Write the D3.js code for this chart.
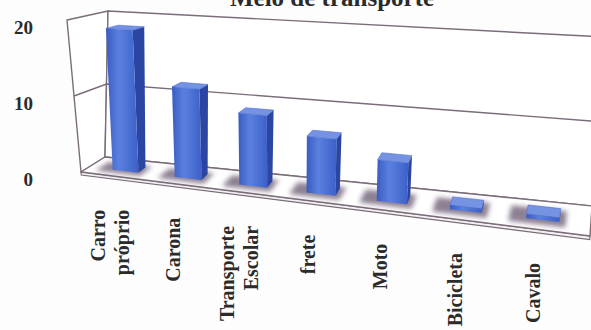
<!DOCTYPE html>
<html>
<head>
<meta charset="utf-8">
<script src="https://cdn.jsdelivr.net/npm/d3@7"></script>
<style>
  html, body { margin: 0; padding: 0; background: #fdfdfd; }
  svg { display: block; }
</style>
</head>
<body>
<svg id="chart" width="591" height="330"></svg>
<script>
// ---- data ----
const title = "Meio de transporte";
const categories = ["Carro próprio", "Carona", "Transporte Escolar", "frete", "Moto", "Bicicleta", "Cavalo"];
const values = [18.7, 11.7, 9.1, 7.0, 5.0, 0.5, 0.5];
const yTicks = [0, 10, 20];
const yMax = 20;

// ---- scales ----
// u: position along the floor, 0 = left wall, 1 = right end
const xBand = d3.scaleBand().domain(categories).range([0, 1]).paddingInner(0).paddingOuter(0.1);
// v: height up the walls, normalised 0..1
const yVal = d3.scaleLinear().domain([0, yMax]).range([0, 1]);

// ---- 3-D projection of the plot box ----
// screen positions of the eight box corners, keyed u v w (w: 0 = front, 1 = back)
const corners = {
  "000": [81, 172], "010": [67, 20], "001": [105, 157], "011": [108, 11],
  "100": [590, 236], "110": [603, 59], "101": [592, 206], "111": [604, 37]
};
const foreshorten = -0.14;
function proj(u, v, w) {
  const s = (1 + foreshorten) * u / (1 + foreshorten * u);
  let x = 0, y = 0;
  for (const a of [0, 1]) for (const b of [0, 1]) for (const c of [0, 1]) {
    const k = (a ? s : 1 - s) * (b ? v : 1 - v) * (c ? w : 1 - w);
    const p = corners["" + a + b + c];
    x += k * p[0]; y += k * p[1];
  }
  return [x, y];
}
const poly = pts => pts.map(p => proj(...p).map(d => d.toFixed(2)).join(",")).join(" ");

const svg = d3.select("#chart");
const defs = svg.append("defs");
defs.append("filter").attr("id", "soft").attr("x", "-50%").attr("y", "-50%").attr("width", "200%").attr("height", "200%")
  .append("feGaussianBlur").attr("stdDeviation", 2.8);
defs.append("filter").attr("id", "edge").attr("x", "-10%").attr("y", "-10%").attr("width", "120%").attr("height", "120%")
  .append("feGaussianBlur").attr("stdDeviation", 0.5);
const grad = defs.append("linearGradient").attr("id", "front").attr("x1", 0).attr("x2", 1).attr("y1", 0).attr("y2", 0);
grad.append("stop").attr("offset", "0%").attr("stop-color", "#3a5cc2");
grad.append("stop").attr("offset", "40%").attr("stop-color", "#5a80e0");
grad.append("stop").attr("offset", "100%").attr("stop-color", "#3d60c8");

const lineColor = "#7a6d79";
const g = svg.append("g");

// walls
g.append("polygon").attr("points", poly([[0, 0, 0], [0, 1, 0], [0, 1, 1], [0, 0, 1]]))
  .attr("fill", "#ffffff").attr("stroke", lineColor).attr("stroke-width", 1.4).attr("stroke-linejoin", "round");
g.append("polygon").attr("points", poly([[0, 0, 1], [0, 1, 1], [1, 1, 1], [1, 0, 1]]))
  .attr("fill", "#ffffff").attr("stroke", lineColor).attr("stroke-width", 1.4).attr("stroke-linejoin", "round");

// gridlines on the side and back walls
yTicks.filter(t => t > 0 && t < yMax).forEach(t => {
  const v = yVal(t);
  g.append("polyline").attr("points", poly([[0, v, 0], [0, v, 1], [1, v, 1]]))
    .attr("fill", "none").attr("stroke", lineColor).attr("stroke-width", 1.4);
});

// floor slab
const slab = 0.02;
g.append("polygon").attr("points", poly([[0, 0, 0], [1, 0, 0], [1, -slab, 0], [0, -slab, 0]]))
  .attr("fill", "#f3f1f3").attr("stroke", lineColor).attr("stroke-width", 1.2);
g.append("polygon").attr("points", poly([[0, 0, 0], [1, 0, 0], [1, 0, 1], [0, 0, 1]]))
  .attr("fill", "#ffffff").attr("stroke", lineColor).attr("stroke-width", 1.4).attr("stroke-linejoin", "round");

// bars
const step = xBand.step();
const barHalf = 0.21 * step;
const wf = 0.34, wb = 0.66;
const bars = categories.map((c, i) => {
  const mid = xBand(c) + step / 2;
  return { c, u0: mid - barHalf, u1: mid + barHalf, v: yVal(values[i]) };
});

// soft shadows at the bar feet
g.append("g").attr("filter", "url(#soft)").selectAll("polygon").data(bars).join("polygon")
  .attr("points", d => poly([[d.u0 - 0.22 * step, 0, wf - 0.16], [d.u1 + 0.08 * step, 0, wf - 0.16],
                             [d.u1 + 0.08 * step, 0, wb + 0.08], [d.u0 - 0.22 * step, 0, wb + 0.08]]))
  .attr("fill", "#574560").attr("opacity", 0.68);

const barG = g.append("g").attr("filter", "url(#edge)").selectAll("g").data(bars).join("g");
barG.append("polygon")
  .attr("points", d => poly([[d.u1, 0, wf], [d.u1, d.v, wf], [d.u1, d.v, wb], [d.u1, 0, wb]]))
  .attr("fill", "#2a45a2");
barG.append("polygon")
  .attr("points", d => poly([[d.u0, d.v, wf], [d.u1, d.v, wf], [d.u1, d.v, wb], [d.u0, d.v, wb]]))
  .attr("fill", "#7593e2").attr("stroke", "#4f70cf").attr("stroke-width", 0.6);
barG.append("polygon")
  .attr("points", d => poly([[d.u0, 0, wf], [d.u1, 0, wf], [d.u1, d.v, wf], [d.u0, d.v, wf]]))
  .attr("fill", "url(#front)");

// value axis labels
const font = "'Liberation Serif', 'DejaVu Serif', serif";
g.append("g").selectAll("text").data(yTicks).join("text")
  .attr("x", 33)
  .attr("y", t => proj(0, yVal(t), 0)[1] + 7)
  .attr("text-anchor", "end").attr("dominant-baseline", "central")
  .attr("font-family", font).attr("font-weight", "bold").attr("font-size", 19).attr("fill", "#2b2b2b")
  .text(t => t);

// category labels, rotated, top-aligned below the floor
const lh = 24;
const catG = g.append("g").selectAll("g").data(categories).join("g")
  .attr("transform", c => {
    const [px, py] = proj(xBand(c) + step / 2, 0, 0);
    return `translate(${px - 8},${py + 33}) rotate(-90)`;
  });
catG.each(function (c) {
  const lines = c.split(" ");
  const n = lines.length;
  d3.select(this).selectAll("text").data(lines).join("text")
    .attr("x", 0)
    .attr("y", (d, i) => (i - (n - 1) / 2) * lh)
    .attr("text-anchor", "end").attr("dominant-baseline", "central")
    .attr("font-family", font).attr("font-weight", "bold").attr("font-size", 20).attr("fill", "#2b2b2b")
    .text(d => d);
});

// title
svg.append("text").attr("x", 332).attr("y", 6)
  .attr("text-anchor", "middle")
  .attr("font-family", font).attr("font-weight", "bold").attr("font-size", 25).attr("fill", "#2b2b2b")
  .text(title);
</script>
</body>
</html>
